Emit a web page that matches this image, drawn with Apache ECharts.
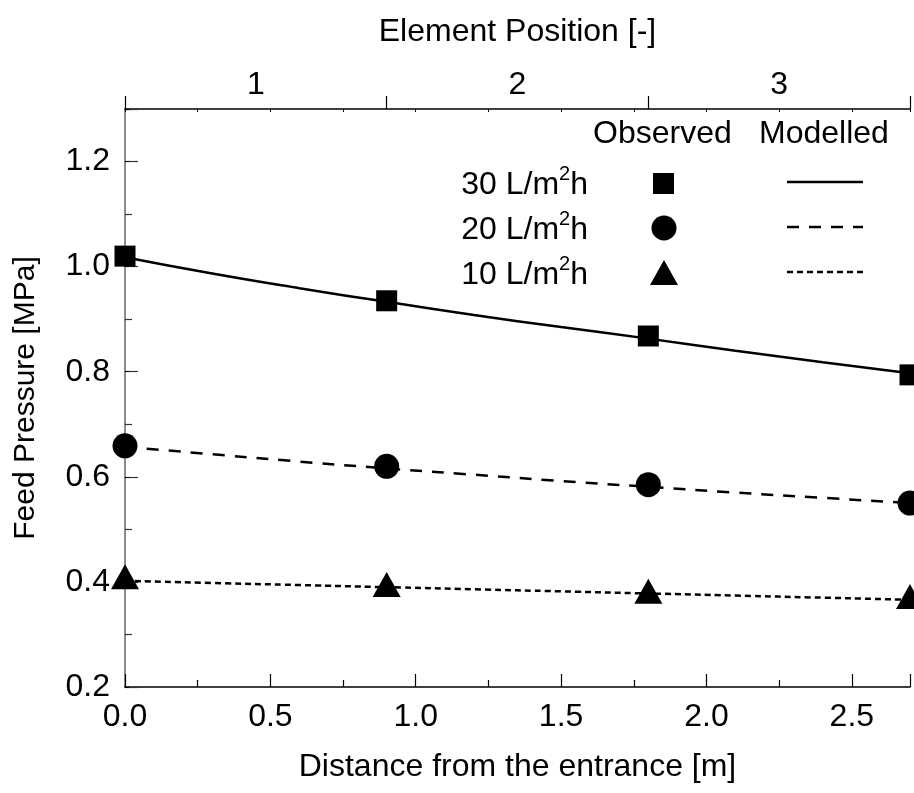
<!DOCTYPE html>
<html>
<head>
<meta charset="utf-8">
<script src="https://cdn.jsdelivr.net/npm/echarts@6/dist/echarts.min.js"></script>
<style>
  html, body { margin: 0; padding: 0; background: #fff; }
  #main { width: 914px; height: 793px; }
</style>
</head>
<body>
<div id="main"></div>
<script>
// observed points (element ends) and modelled curves
var observedX = [0, 0.9, 1.8, 2.7];
var obs30 = [1.02, 0.935, 0.868, 0.794];
var obs20 = [0.659, 0.62, 0.585, 0.55];
var obs10 = [0.41, 0.395, 0.382, 0.372];

var modelX = [0, 0.3, 0.6, 0.9, 1.2, 1.5, 1.8, 2.1, 2.4, 2.7];
var model30 = [1.018, 0.987, 0.959, 0.933, 0.908, 0.885, 0.863, 0.840, 0.818, 0.797];
var model20 = [0.657, 0.643, 0.629, 0.616, 0.604, 0.592, 0.581, 0.570, 0.560, 0.550];
var model10 = [0.402, 0.398, 0.394, 0.390, 0.386, 0.382, 0.378, 0.374, 0.370, 0.366];

var elements = ['1', '2', '3'];
var fluxNames = ['30', '20', '10'];

var FONT = 'Liberation Sans, Arial, sans-serif';
var FS = 32;

function pairs(xs, ys) {
  return xs.map(function (x, i) { return [x, ys[i]]; });
}

var chart = echarts.init(document.getElementById('main'), null, { renderer: 'canvas' });

var scatterBase = {
  type: 'scatter',
  xAxisIndex: 0,
  yAxisIndex: 0,
  itemStyle: { color: '#000', opacity: 1 },
  clip: false,
  z: 5
};
var lineBase = {
  type: 'line',
  xAxisIndex: 0,
  yAxisIndex: 0,
  showSymbol: false,
  smooth: true,
  lineStyle: { color: '#000', width: 2.5 },
  z: 4
};

// legend built from graphic pieces (two columns: observed / modelled)
var legendRows = [
  { y: 183, symbol: 'rect', dash: null },
  { y: 228, symbol: 'circle', dash: [12, 10] },
  { y: 273, symbol: 'triangle', dash: [6, 4] }
];
var legendGraphic = [
  { type: 'text', left: 593, top: 118, style: { text: 'Observed', font: FS + 'px ' + FONT, fill: '#000' } },
  { type: 'text', left: 759, top: 118, style: { text: 'Modelled', font: FS + 'px ' + FONT, fill: '#000' } }
];
legendRows.forEach(function (r, i) {
  legendGraphic.push({
    type: 'text', x: 588, y: r.y + 2,
    style: {
      text: fluxNames[i] + ' L/m{sup|2}h',
      font: FS + 'px ' + FONT, fill: '#000',
      align: 'right', verticalAlign: 'middle',
      rich: { sup: { fontSize: 20, fontFamily: FONT, verticalAlign: 'top', padding: [0, 0, 22, 0], fill: '#000' } }
    }
  });
  if (r.symbol === 'rect') {
    legendGraphic.push({ type: 'rect', shape: { x: 653, y: r.y - 10, width: 21, height: 21 }, style: { fill: '#000' } });
  } else if (r.symbol === 'circle') {
    legendGraphic.push({ type: 'circle', shape: { cx: 664, cy: r.y, r: 12.5 }, style: { fill: '#000' } });
  } else {
    legendGraphic.push({ type: 'polygon', shape: { points: [[664, r.y - 13], [650, r.y + 12], [678, r.y + 12]] }, style: { fill: '#000' } });
  }
  legendGraphic.push({
    type: 'line', shape: { x1: 787, y1: r.y - 1, x2: 863, y2: r.y - 1 },
    style: { stroke: '#000', lineWidth: 2.5, lineDash: r.dash || null }
  });
});

var option = {
  backgroundColor: '#fff',
  animation: false,
  textStyle: { fontFamily: FONT },
  grid: { left: 125, right: 4, top: 109, bottom: 106, containLabel: false },
  xAxis: [{
    type: 'value',
    position: 'bottom',
    min: 0, max: 2.7, interval: 0.5,
    name: 'Distance from the entrance [m]',
    nameLocation: 'middle', nameGap: 64,
    nameTextStyle: { fontSize: FS, color: '#000', fontFamily: FONT },
    axisLine: { show: true, lineStyle: { color: '#000', width: 1.5 } },
    axisTick: { show: true, inside: true, length: 13, lineStyle: { color: '#000', width: 1.2 } },
    minorTick: { show: true, splitNumber: 2, length: 7, lineStyle: { color: '#000', width: 1.2 } },
    axisLabel: { fontSize: FS, color: '#000', margin: 14, fontFamily: FONT, showMaxLabel: false,
      formatter: function (v) { return v.toFixed(1); } },
    splitLine: { show: false }
  }, {
    type: 'category',
    position: 'top',
    data: elements,
    boundaryGap: true,
    name: 'Element Position [-]',
    nameLocation: 'middle', nameGap: 61,
    nameTextStyle: { fontSize: FS, color: '#000', fontFamily: FONT },
    axisLine: { show: true, lineStyle: { color: '#000', width: 1.5 } },
    axisTick: { show: true, inside: false, length: 13, alignWithLabel: false, lineStyle: { color: '#000', width: 1.2 } },
    axisLabel: { fontSize: FS, color: '#000', margin: 8, fontFamily: FONT },
    splitLine: { show: false }
  }, {
    type: 'value',
    position: 'top',
    min: 0, max: 2.7, interval: 0.25,
    axisLine: { show: false },
    axisTick: { show: true, inside: true, length: 3, lineStyle: { color: '#000', width: 1 } },
    axisLabel: { show: false },
    splitLine: { show: false }
  }],
  yAxis: [{
    type: 'value',
    position: 'left',
    min: 0.2, max: 1.3, interval: 0.2,
    name: 'Feed Pressure [MPa]',
    nameLocation: 'middle', nameGap: 84,
    nameTextStyle: { fontSize: 30, color: '#000', fontFamily: FONT },
    axisLine: { show: true, lineStyle: { color: '#666', width: 1.5 } },
    axisTick: { show: true, inside: true, length: 13, lineStyle: { color: '#333', width: 1.2 } },
    minorTick: { show: true, splitNumber: 2, length: 7, lineStyle: { color: '#333', width: 1.2 } },
    axisLabel: { fontSize: FS, color: '#000', margin: 15, fontFamily: FONT, showMaxLabel: false,
      formatter: function (v) { return v.toFixed(1); } },
    splitLine: { show: false }
  }, {
    type: 'value',
    position: 'right',
    min: 0.2, max: 1.3, interval: 0.2,
    axisLine: { show: false },
    axisTick: { show: true, inside: false, length: 4, lineStyle: { color: '#000', width: 1 } },
    axisLabel: { show: false },
    splitLine: { show: false }
  }],
  graphic: legendGraphic,
  series: [
    Object.assign({}, lineBase, { name: 'Modelled 30', data: pairs(modelX, model30) }),
    Object.assign({}, lineBase, { name: 'Modelled 20', data: pairs(modelX, model20),
      lineStyle: { color: '#000', width: 2.5, type: [12, 10] } }),
    Object.assign({}, lineBase, { name: 'Modelled 10', data: pairs(modelX, model10),
      lineStyle: { color: '#000', width: 2.5, type: [6, 4] } }),
    Object.assign({}, scatterBase, { name: 'Observed 30', symbol: 'rect', symbolSize: 21, data: pairs(observedX, obs30) }),
    Object.assign({}, scatterBase, { name: 'Observed 20', symbol: 'circle', symbolSize: 25, data: pairs(observedX, obs20) }),
    Object.assign({}, scatterBase, { name: 'Observed 10', symbol: 'triangle', symbolSize: [28, 25], data: pairs(observedX, obs10) })
  ]
};

chart.setOption(option);
</script>
</body>
</html>
